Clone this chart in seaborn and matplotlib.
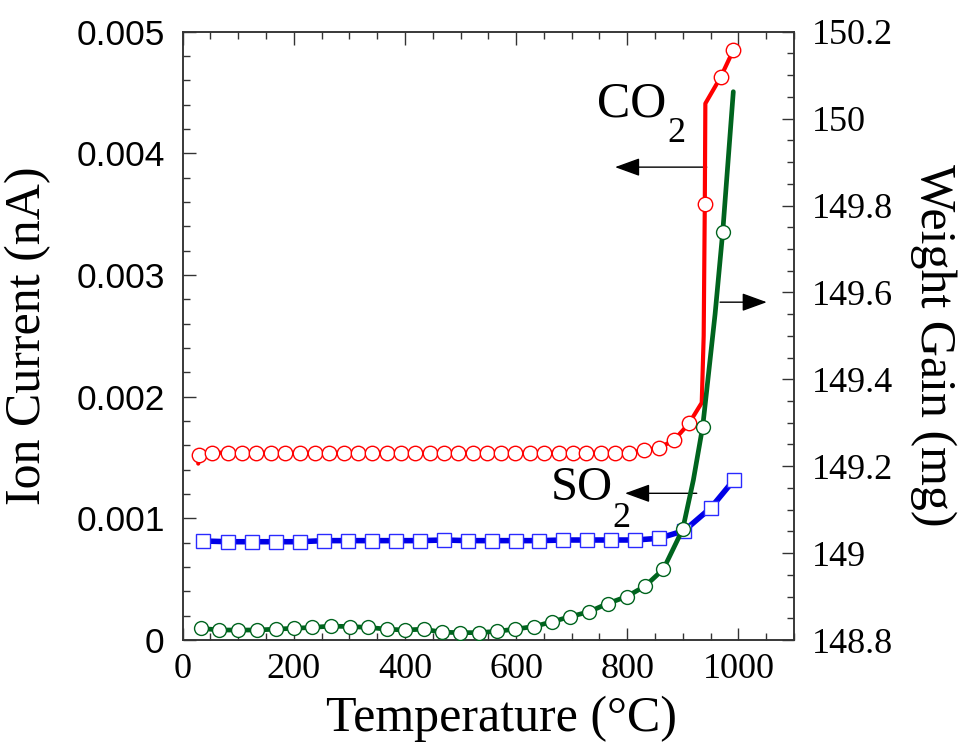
import numpy as np
import pandas as pd
import matplotlib
matplotlib.use("Agg")
import matplotlib.pyplot as plt
import seaborn as sns
from matplotlib.ticker import MultipleLocator, FixedLocator, FixedFormatter

# ---- CO2 ion current (nA) at the circle markers ----
co2_temp = [29.9, 53.3, 81, 107.3, 132.5, 158.4, 184.7, 211.1, 237.6, 263.9,
            289.8, 315.5, 341.3, 367.2, 393, 418.7, 444.6, 470.4, 496.1, 522.1,
            547.3, 573, 598.8, 624.7, 650.5, 676.3, 702.2, 725.8, 752.2, 778,
            803.7, 830.7, 856.6, 883.6, 911, 939.5, 968.4, 991]
co2_current = [0.00152, 0.00154, 0.00154, 0.00154, 0.00154, 0.00154, 0.00154,
               0.00154, 0.00154, 0.00154, 0.00154, 0.00154, 0.00154, 0.00154,
               0.00154, 0.00154, 0.00154, 0.00154, 0.00154, 0.00154, 0.00154,
               0.00154, 0.00154, 0.00154, 0.00154, 0.00154, 0.00154, 0.00154,
               0.00154, 0.00154, 0.00154, 0.00156, 0.00158, 0.00164, 0.00178,
               0.00358, 0.00463, 0.00485]
# extra CO2 trace points between markers (start and the step near 940 °C)
co2_extra_temp = [28, 934, 937.5, 940.5]
co2_extra_current = [0.00145, 0.00195, 0.0025, 0.00441]

# ---- SO2 ion current (nA) at the square markers ----
so2_temp = [36, 82, 124, 168, 211, 255, 298, 341, 384, 427, 470, 513, 556, 599,
            642, 685, 728, 771, 814, 857, 902.6, 950.7, 992]
so2_current = [0.000814, 0.000808, 0.000808, 0.000808, 0.000808, 0.000817,
               0.000817, 0.000817, 0.000817, 0.000817, 0.000822, 0.000817,
               0.000817, 0.000817, 0.000817, 0.000822, 0.000822, 0.000822,
               0.000822, 0.000836, 0.000899, 0.001088, 0.001316]

# ---- Weight gain (mg) at the circle markers ----
wt_temp = [32.4, 65.3, 100, 133.1, 167.3, 200.2, 233.2, 266.8, 300.5, 333.9,
           367, 400, 433.6, 466.5, 498.9, 532.4, 565.3, 597.7, 631.9, 664.8,
           697.8, 731.2, 764.8, 799, 832, 865, 899.8, 935.7, 971.7]
wt_gain = [148.827, 148.823, 148.823, 148.823, 148.825, 148.827, 148.829,
           148.832, 148.831, 148.829, 148.825, 148.823, 148.825, 148.818,
           148.817, 148.817, 148.820, 148.825, 148.831, 148.842, 148.854,
           148.865, 148.884, 148.900, 148.924, 148.963, 149.055, 149.291,
           149.738]
wt_extra_temp = [918.9, 943, 958, 990.8]
wt_extra_gain = [149.168, 149.375, 149.55, 150.062]

# ---- axis ticks ----
x_ticks = [0, 200, 400, 600, 800, 1000]
left_ticks = [0, 0.001, 0.002, 0.003, 0.004, 0.005]
left_labels = ["0", "0.001", "0.002", "0.003", "0.004", "0.005"]
right_ticks = [148.8, 149.0, 149.2, 149.4, 149.6, 149.8, 150.0, 150.2]
right_labels = ["148.8", "149", "149.2", "149.4", "149.6", "149.8", "150", "150.2"]

RED = "#ff0000"
BLUE = "#0000e6"
BLUE_EDGE = "#2a2aff"
GREEN = "#00641e"
FRAME = "#333333"

sns.set_theme(style="ticks")
plt.rcParams["font.family"] = ["Liberation Serif", "DejaVu Serif"]
plt.rcParams["text.color"] = "black"
plt.rcParams["axes.labelcolor"] = "black"


def merged(main_x, main_y, extra_x, extra_y):
    """Combine marker points with extra trace points; return frame + marker indices."""
    df = pd.DataFrame({
        "x": list(main_x) + list(extra_x),
        "y": list(main_y) + list(extra_y),
        "mark": [True] * len(main_x) + [False] * len(extra_x),
    }).sort_values("x", kind="stable").reset_index(drop=True)
    return df, list(np.flatnonzero(df["mark"].to_numpy()))


fig = plt.figure(figsize=(9.63, 7.43), dpi=100)
ax = fig.add_axes([0.1897, 0.1386, 0.6348, 0.8187])
ax2 = ax.twinx()

co2_df, co2_idx = merged(co2_temp, co2_current, co2_extra_temp, co2_extra_current)
so2_df = pd.DataFrame({"x": so2_temp, "y": so2_current})
wt_df, wt_idx = merged(wt_temp, wt_gain, wt_extra_temp, wt_extra_gain)

sns.lineplot(data=so2_df, x="x", y="y", ax=ax, sort=False, estimator=None,
             color=BLUE, lw=4.0, marker="s", ms=9.6, mfc="white", mec=BLUE_EDGE,
             mew=1.0, legend=False, zorder=3)
sns.lineplot(data=co2_df, x="x", y="y", ax=ax, sort=False, estimator=None,
             color=RED, lw=3.0, marker="o", markevery=co2_idx, ms=10.4,
             mfc="white", mec=RED, mew=1.0, legend=False, zorder=4)
sns.lineplot(data=wt_df, x="x", y="y", ax=ax2, sort=False, estimator=None,
             color=GREEN, lw=3.4, marker="o", markevery=wt_idx, ms=10.0,
             mfc="white", mec=GREEN, mew=1.0, legend=False, zorder=4)

# ---- axes limits & ticks ----
ax.set_xlim(0, 1100)
ax.set_ylim(0, 0.005)
ax2.set_ylim(148.8, 150.2)

ax.xaxis.set_major_locator(FixedLocator(x_ticks))
ax.xaxis.set_minor_locator(MultipleLocator(50))
ax.yaxis.set_major_locator(FixedLocator(left_ticks))
ax.yaxis.set_major_formatter(FixedFormatter(left_labels))
ax.yaxis.set_minor_locator(MultipleLocator(0.0002))
ax2.yaxis.set_major_locator(FixedLocator(right_ticks))
ax2.yaxis.set_major_formatter(FixedFormatter(right_labels))
ax2.yaxis.set_minor_locator(MultipleLocator(0.05))

for a in (ax, ax2):
    for s in a.spines.values():
        s.set_linewidth(1.1)
        s.set_color(FRAME)
        s.set_visible(True)

ax.tick_params(axis="x", which="both", direction="in", top=True, bottom=True,
               color=FRAME, width=1.0, labelcolor="black")
ax.tick_params(axis="x", which="major", length=9, labelsize=26, pad=9)
ax.tick_params(axis="x", which="minor", length=4.8)
ax.tick_params(axis="y", which="both", direction="in", left=True, right=False,
               color=FRAME, width=1.0, labelcolor="black")
ax.tick_params(axis="y", which="major", length=9, labelsize=25.5, pad=13)
ax.tick_params(axis="y", which="minor", length=4.8)
ax2.tick_params(axis="y", which="both", direction="in", right=True, left=False,
                color=FRAME, width=1.0, labelcolor="black")
ax2.tick_params(axis="y", which="major", length=9, labelsize=26, pad=13)
ax2.tick_params(axis="y", which="minor", length=4.8)

for lbl in ax.get_yticklabels():
    lbl.set_fontfamily(["Liberation Sans", "DejaVu Sans"])

# ---- axis titles ----
ax.set_xlabel("Temperature (°C)", fontsize=36, color="black")
ax.xaxis.set_label_coords(0.521, -0.092)
ax.set_ylabel("Ion Current (nA)", fontsize=36, color="black")
ax.yaxis.set_label_coords(-0.215, 0.5)
ax2.set_ylabel("Weight Gain (mg)", fontsize=36, rotation=270, va="bottom",
               color="black")
ax2.yaxis.set_label_coords(1.19, 0.485)

# ---- species labels with arrows ----
arrow = dict(arrowstyle="-|>,head_length=1.1,head_width=0.4", color="black",
             lw=1.0, mutation_scale=14, shrinkA=0, shrinkB=0)
ax.annotate("", xy=(778, 0.003887), xytext=(943, 0.003887), arrowprops=arrow)
ax.annotate("", xy=(796, 0.001206), xytext=(925, 0.001206), arrowprops=arrow)
ax.annotate("", xy=(1051, 0.002777), xytext=(967, 0.002777), arrowprops=arrow)

ax.text(745, 0.004301, "CO", fontsize=36, ha="left", va="baseline")
ax.text(872, 0.004095, "2", fontsize=26, ha="left", va="baseline")
ax.text(662, 0.001151, "SO", fontsize=35, ha="left", va="baseline")
ax.text(773, 0.000929, "2", fontsize=26, ha="left", va="baseline")

fig.savefig("out.png", dpi=100)
